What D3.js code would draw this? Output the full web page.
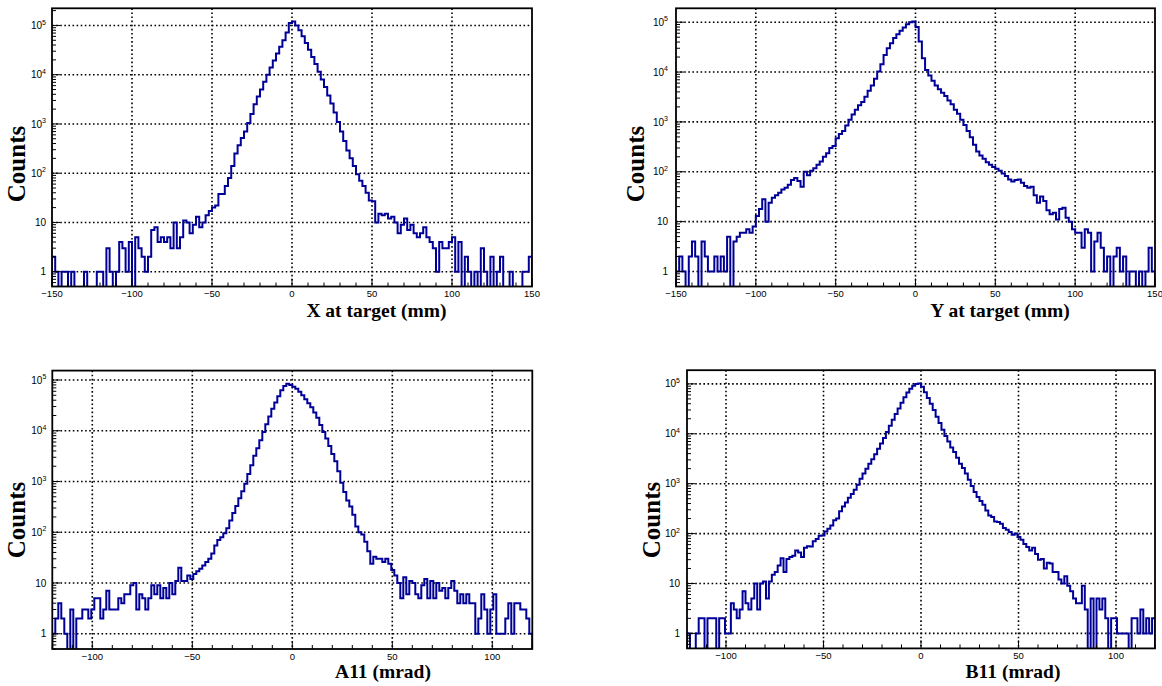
<!DOCTYPE html>
<html>
<head>
<meta charset="utf-8">
<script src="https://cdn.jsdelivr.net/npm/d3@7"></script>
<style>
  body { margin: 0; background: #fff; }
  svg { display: block; }
</style>
</head>
<body>
<svg id="chart" width="1162" height="686"></svg>
<script>
// Axis ranges and tick labels
const mmRange = [-150, 150];
const mradRange = [-120, 120];
const mmTicks = [-150, -100, -50, 0, 50, 100, 150];
const mradTicks = [-100, -50, 0, 50, 100];
const decadeTicks = [1, 10, 100, 1000, 10000, 100000];

// X at target, 2 mm bins from -150 to 150
const xTargetCounts = [
  2, 1, 0, 1, 1, 0, 1, 0, 0, 0,
  1, 0, 0, 0, 1, 1, 0, 3, 1, 0,
  1, 4, 3, 1, 4, 0, 5, 3, 2, 1,
  2, 7, 8, 4, 5, 4, 5, 3, 10, 3,
  5, 11, 10, 6, 9, 13, 8, 10, 14, 17,
  20, 22, 38, 38, 55, 80, 140, 250, 370, 520,
  700, 1050, 1600, 2500, 3600, 5000, 7200, 10000, 14000, 19500,
  27000, 37000, 50000, 72000, 112000, 120000, 100000, 80000, 60000, 44000,
  32000, 23000, 16500, 11500, 8000, 5600, 3800, 2600, 1700, 1100,
  700, 450, 290, 200, 140, 95, 70, 55, 40, 28,
  27, 10, 15, 14, 15, 12, 13, 10, 6, 9,
  12, 7, 9, 6, 5, 6, 8, 5, 4, 3,
  1, 4, 3, 3, 4, 5, 1, 4, 0, 2,
  1, 0, 1, 0, 3, 1, 0, 2, 0, 1,
  2, 0, 0, 1, 0, 0, 0, 1, 1, 2
];

// Y at target, 2 mm bins from -150 to 150
const yTargetCounts = [
  1, 2, 1, 0, 2, 4, 2, 0, 4, 2,
  1, 1, 2, 1, 2, 1, 5, 0, 4, 5,
  6, 6, 7, 6, 8, 13, 18, 28, 10, 24,
  30, 34, 38, 44, 48, 55, 68, 75, 65, 50,
  100, 85, 105, 118, 138, 160, 200, 235, 300, 330,
  470, 570, 660, 850, 1100, 1400, 1750, 2150, 2500, 3200,
  4200, 5400, 7300, 10200, 14400, 22000, 30000, 38000, 48000, 57500,
  67000, 78000, 91000, 100000, 103000, 80000, 41000, 19000, 11000, 8500,
  6700, 5400, 4500, 3850, 3300, 2700, 2250, 1750, 1450, 1100,
  870, 660, 490, 350, 255, 212, 182, 156, 138, 125,
  115, 105, 92, 82, 70, 64, 68, 70, 60, 52,
  48, 50, 34, 24, 32, 26, 17, 14, 15, 11,
  18, 19, 12, 10, 7, 6, 6, 3, 7, 6,
  1, 4, 6, 3, 1, 2, 0, 2, 3, 1,
  2, 0, 1, 1, 0, 1, 0, 1, 3, 1
];

// A11, 1.5 mrad bins from -120 to 120
const a11Counts = [
  1, 2, 4, 2, 1, 0, 3, 0, 2, 2,
  3, 3, 2, 3, 5, 5, 2, 3, 7, 3,
  3, 3, 5, 4, 6, 6, 9, 10, 3, 6,
  5, 3, 5, 9, 6, 9, 5, 8, 5, 10,
  6, 11, 20, 11, 11, 14, 12, 15, 17, 19,
  22, 26, 30, 38, 55, 70, 80, 95, 120, 170,
  240, 330, 470, 640, 900, 1400, 2100, 3200, 4500, 6500,
  9500, 13500, 19000, 27000, 36000, 48000, 63000, 76000, 84000, 80000,
  74000, 67000, 59000, 50000, 42000, 35000, 29000, 23000, 18000, 13000,
  9500, 7000, 5000, 3500, 2500, 1600, 950, 620, 420, 320,
  220, 130, 100, 90, 65, 42, 24, 33, 30, 30,
  26, 30, 24, 18, 14, 10, 5, 13, 6, 11,
  10, 6, 5, 9, 12, 5, 11, 5, 10, 7,
  8, 5, 8, 11, 7, 4, 6, 4, 6, 4,
  4, 1, 2, 6, 3, 1, 3, 6, 1, 1,
  1, 2, 4, 1, 4, 4, 3, 3, 2, 1
];

// B11, 1.5 mrad bins from -120 to 120
const b11Counts = [
  1, 0, 0, 1, 2, 2, 0, 2, 2, 2,
  0, 2, 2, 1, 1, 4, 3, 2, 3, 7,
  4, 3, 5, 10, 3, 10, 11, 5, 11, 15,
  17, 23, 32, 17, 31, 34, 36, 46, 42, 34,
  52, 56, 55, 70, 78, 90, 92, 110, 125, 146,
  185, 200, 280, 350, 420, 520, 620, 760, 950, 1250,
  1600, 2000, 2500, 3100, 3900, 5000, 6400, 8200, 10800, 14500,
  19000, 25000, 32000, 42000, 54000, 67000, 80000, 92000, 100000, 102000,
  88000, 68000, 52000, 40000, 30000, 22000, 16500, 12000, 9000, 7000,
  5300, 4300, 3300, 2500, 2050, 1600, 1200, 900, 680, 540,
  450, 380, 290, 230, 215, 175, 170, 158, 130, 120,
  108, 95, 100, 85, 75, 62, 54, 46, 52, 39,
  30, 31, 20, 26, 25, 17, 17, 12, 10, 14,
  9, 7, 5, 4, 4, 9, 3, 0, 5, 0,
  5, 3, 5, 2, 0, 2, 2, 1, 1, 1,
  1, 0, 2, 2, 1, 3, 1, 2, 1, 2
];

const panels = [
  { counts: xTargetCounts, range: mmRange, ticks: mmTicks,
    frame: { x0: 52, x1: 532, y0: 8.3, y1: 286.5 },
    title: "X at target (mm)", titleX: 376.5, titleY: 317,
    yTitleX: 16.5, yTitleY: 164, labelGap: 6 },
  { counts: yTargetCounts, range: mmRange, ticks: mmTicks,
    frame: { x0: 676, x1: 1155, y0: 8.3, y1: 286.5 },
    title: "Y at target (mm)", titleX: 1000, titleY: 317,
    yTitleX: 635.5, yTitleY: 164, labelGap: 8 },
  { counts: a11Counts, range: mradRange, ticks: mradTicks,
    frame: { x0: 52.3, x1: 532.3, y0: 370.6, y1: 649 },
    title: "A11 (mrad)", titleX: 383, titleY: 678,
    yTitleX: 16.5, yTitleY: 520, labelGap: 6 },
  { counts: b11Counts, range: mradRange, ticks: mradTicks,
    frame: { x0: 687, x1: 1155, y0: 370.2, y1: 648.4 },
    title: "B11 (mrad)", titleX: 1013, titleY: 678,
    yTitleX: 651, yTitleY: 520, labelGap: 7 }
];

const svg = d3.select("#chart");
svg.append("rect").attr("width", 1162).attr("height", 686).attr("fill", "#fff");

const lineColor = "#000099";
const minusFmt = v => (v < 0 ? "\u2212" + Math.abs(v) : String(v));

panels.forEach((p, idx) => {
  const f = p.frame;
  const n = p.counts.length;
  const binW = (p.range[1] - p.range[0]) / n;
  const ymin = 0.5;
  const maxV = d3.max(p.counts);
  const lmax = Math.log10(maxV);
  const ymax = Math.pow(10, lmax + 0.05 * (lmax - Math.log10(ymin)));

  const x = d3.scaleLinear().domain(p.range).range([f.x0, f.x1]);
  const y = d3.scaleLog().domain([ymin, ymax]).range([f.y1, f.y0]);

  const g = svg.append("g");

  // clip region for the histogram
  const clipId = "clip" + idx;
  svg.append("clipPath").attr("id", clipId)
    .append("rect").attr("x", f.x0).attr("y", f.y0)
    .attr("width", f.x1 - f.x0).attr("height", f.y1 - f.y0);

  // dotted grid
  const grid = g.append("g").attr("stroke", "#000").attr("stroke-width", 1.6)
    .attr("stroke-dasharray", "1.6 2.5").attr("fill", "none");
  p.ticks.filter(t => t > p.range[0] && t < p.range[1]).forEach(t => {
    grid.append("line").attr("x1", x(t)).attr("x2", x(t))
      .attr("y1", f.y0).attr("y2", f.y1);
  });
  decadeTicks.forEach(t => {
    grid.append("line").attr("x1", f.x0).attr("x2", f.x1)
      .attr("y1", y(t)).attr("y2", y(t));
  });

  // histogram outline
  const floorV = 0.15;
  const pts = [[p.range[0], floorV]];
  p.counts.forEach((c, i) => {
    const lo = p.range[0] + i * binW;
    const v = Math.max(c, floorV);
    pts.push([lo, v], [lo + binW, v]);
  });
  pts.push([p.range[1], floorV]);
  const line = d3.line().x(d => x(d[0])).y(d => y(d[1]));
  g.append("path").attr("d", line(pts))
    .attr("fill", "none").attr("stroke", lineColor)
    .attr("stroke-width", 2).attr("stroke-linejoin", "miter")
    .attr("clip-path", `url(#${clipId})`);

  // x ticks (major and minor, pointing up from the bottom edge)
  const tk = g.append("g").attr("stroke", "#000").attr("stroke-width", 1);
  d3.range(p.range[0], p.range[1] + 0.001, 10).forEach(t => {
    const major = p.ticks.includes(t);
    tk.append("line").attr("x1", x(t)).attr("x2", x(t))
      .attr("y1", f.y1).attr("y2", f.y1 - (major ? 8 : 4));
  });

  // y log ticks (pointing right from the left edge)
  for (let e = -1; e <= 6; e++) {
    for (let k = 1; k <= 9; k++) {
      const v = k * Math.pow(10, e);
      if (v < ymin || v > ymax) continue;
      tk.append("line").attr("x1", f.x0).attr("x2", f.x0 + (k === 1 ? 8 : 4))
        .attr("y1", y(v)).attr("y2", y(v));
    }
  }

  // frame
  g.append("rect").attr("x", f.x0).attr("y", f.y0)
    .attr("width", f.x1 - f.x0).attr("height", f.y1 - f.y0)
    .attr("fill", "none").attr("stroke", "#000").attr("stroke-width", 1.8);

  // x tick labels
  const lab = g.append("g").attr("font-family", "'Liberation Sans', Arial, sans-serif")
    .attr("font-size", 9.5).attr("fill", "#000");
  p.ticks.forEach(t => {
    lab.append("text").attr("x", x(t)).attr("y", f.y1 + 10.5)
      .attr("text-anchor", "middle").text(minusFmt(t));
  });

  // y tick labels: 1, 10, 10^n
  const ylab = g.append("g").attr("font-family", "'Liberation Sans', Arial, sans-serif")
    .attr("font-size", 10).attr("fill", "#000");
  decadeTicks.forEach(t => {
    const e = Math.round(Math.log10(t));
    const txt = ylab.append("text").attr("x", f.x0 - p.labelGap).attr("y", y(t) + 3.6)
      .attr("text-anchor", "end");
    if (e <= 1) {
      txt.text(String(t));
    } else {
      txt.append("tspan").text("10");
      txt.append("tspan").attr("font-size", 7).attr("dy", -4.5).text(String(e));
    }
  });

  // axis titles
  g.append("text").attr("x", p.titleX).attr("y", p.titleY)
    .attr("text-anchor", "middle")
    .attr("font-family", "'Liberation Serif', 'Times New Roman', serif")
    .attr("font-weight", "bold").attr("font-size", 19.5).text(p.title);
  g.append("text")
    .attr("transform", `translate(${p.yTitleX},${p.yTitleY}) rotate(-90)`)
    .attr("text-anchor", "middle").attr("dominant-baseline", "central")
    .attr("font-family", "'Liberation Serif', 'Times New Roman', serif")
    .attr("font-weight", "bold").attr("font-size", 25).text("Counts");
});
</script>
</body>
</html>
